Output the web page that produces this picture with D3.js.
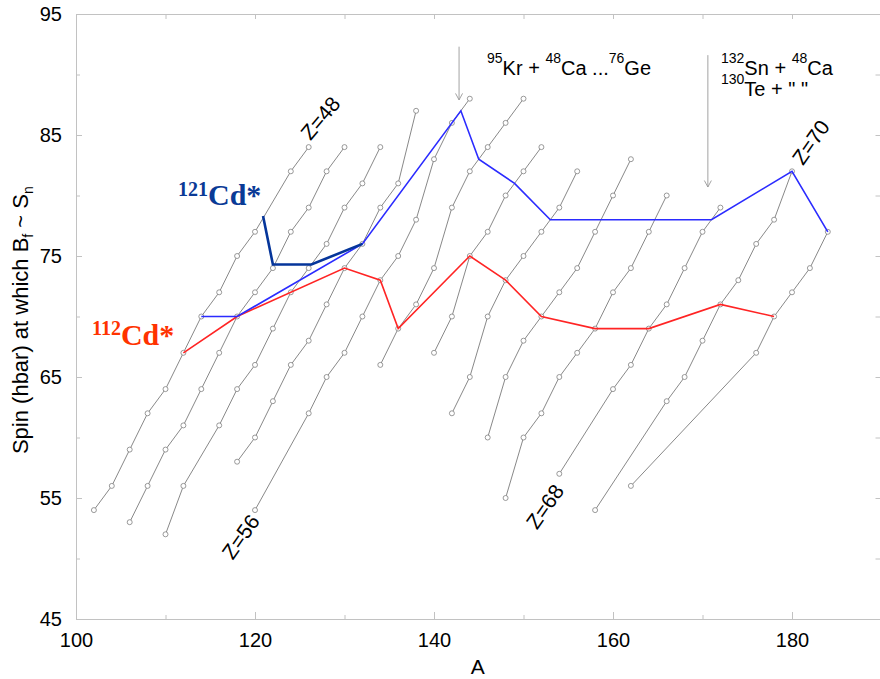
<!DOCTYPE html>
<html>
<head>
<meta charset="utf-8">
<script src="https://cdn.jsdelivr.net/npm/d3@7"></script>
<style>
  body { margin: 0; background: #fff; }
  svg { display: block; font-family: "Liberation Sans", Arial, Helvetica, sans-serif; }
</style>
</head>
<body>
<svg width="880" height="679"></svg>
<script>
// isotope chains (A, spin)
var chainZ48 = [[102,54],[104,56],[106,59],[108,62],[110,64],[112,67],[114,70],[116,72],[118,75],[120,77],[124,82],[126,84]];
var chainZ50 = [[106,53],[108,56],[110,59],[112,61],[114,64],[116,67],[118,70],[120,72],[122,74],[124,77],[126,79],[128,82],[130,84]];
var chainZ52 = [[110,52],[112,56],[116,61],[118,64],[120,66],[122,69],[124,72],[126,74],[128,76],[130,79],[132,81],[134,84]];
var chainZ54 = [[118,58],[120,60],[122,63],[124,66],[126,68],[128,71],[130,74],[132,76],[134,79],[136,81],[138,87]];
var chainZ56 = [[120,54],[126,62],[128,65],[130,67],[132,70],[134,73],[136,75],[138,78],[140,83],[142,86],[144,88]];
var chainZ58 = [[134,66],[136,69],[138,71],[140,74],[142,79],[144,82],[146,84],[148,86],[150,88]];
var chainZ60 = [[140,67],[142,70],[144,75],[146,77],[148,80],[150,82],[152,84]];
var chainZ62 = [[142,62],[144,65],[146,70],[148,73],[150,75],[152,77],[154,79],[156,82]];
var chainZ64 = [[146,60],[148,65],[150,68],[152,70],[154,72],[156,74],[158,77],[160,80],[162,83]];
var chainZ66 = [[148,55],[150,60],[152,62],[154,65],[156,67],[158,69],[160,72],[162,74],[164,77],[166,80]];
var chainZ68 = [[154,57],[160,64],[162,66],[164,69],[166,71],[168,74],[170,77],[172,79]];
var chainZ70 = [[158,54],[166,63],[168,65],[170,68],[172,71],[174,73],[176,76],[178,78],[180,82]];
var chainZ72 = [[162,56],[176,67],[178,70],[180,72],[182,74],[184,77]];

var redLine = [[112,67],[118,70],[130,74],[134,73],[136,69],[144,75],[148,73],[152,70],[158,69],[164,69],[172,71],[178,70]];
var blueLine = [[114,70],[118,70],[132,76],[143,87],[145,83],[149,81],[153,78],[171,78],[180,82],[184,77]];
var darkBlueLine = [[120.9,78.3],[122,74.3],[126.3,74.3],[132,76]];

var xMajor = [100,120,140,160,180];
var xMinor = [110,130,150,170,190];
var yMajor = [45,55,65,75,85,95];
var yMinor = [50,60,70,80,90];

var svg = d3.select("svg");

var x = d3.scaleLinear().domain([100,190]).range([76,881.5]);
var y = d3.scaleLinear().domain([45,95]).range([619,14]);

var frameColor = "#c2c2c2";

//frame + ticks
function styleAxis(g)
{
    g.selectAll("path").attr("stroke", frameColor);
    g.selectAll("line").attr("stroke", frameColor);
    g.selectAll("text").attr("fill", "#000").style("font-size", "20px");
}

svg.append("g").attr("transform", "translate(0," + y(45) + ")")
    .call(d3.axisBottom(x).tickValues(xMajor).tickSize(-7).tickSizeOuter(0).tickPadding(14))
    .call(styleAxis);
svg.append("g").attr("transform", "translate(0," + y(45) + ")")
    .call(d3.axisBottom(x).tickValues(xMinor).tickSize(-4).tickSizeOuter(0).tickFormat(""))
    .call(styleAxis);
svg.append("g").attr("transform", "translate(0," + y(95) + ")")
    .call(d3.axisTop(x).tickValues(xMajor.concat(xMinor)).tickSize(-5).tickSizeOuter(0).tickFormat(""))
    .call(styleAxis);

svg.append("g").attr("transform", "translate(" + x(100) + ",0)")
    .call(d3.axisLeft(y).tickValues(yMajor).tickSize(-6).tickSizeOuter(0).tickPadding(14))
    .call(styleAxis);
svg.append("g").attr("transform", "translate(" + x(100) + ",0)")
    .call(d3.axisLeft(y).tickValues(yMinor).tickSize(-4).tickSizeOuter(0).tickFormat(""))
    .call(styleAxis);
svg.append("g").attr("transform", "translate(" + x(190) + ",0)")
    .call(d3.axisRight(y).tickValues(yMajor.concat(yMinor)).tickSize(-6).tickSizeOuter(0).tickFormat(""))
    .call(styleAxis);

//axis titles
svg.append("text")
    .attr("x", x(144.9))
    .attr("y", 674)
    .attr("text-anchor", "middle")
    .style("font-size", "21px")
    .text("A");

var yTitle = svg.append("text")
    .attr("transform", "translate(28," + y(69.7) + ") rotate(-90)")
    .attr("text-anchor", "middle")
    .style("font-size", "22px");
yTitle.append("tspan").text("Spin (hbar) at which B");
yTitle.append("tspan").attr("dy", 5).style("font-size", "14px").text("f");
yTitle.append("tspan").attr("dy", -5).text(" ~ S");
yTitle.append("tspan").attr("dy", 5).style("font-size", "14px").text("n");

//grey chains
var chains = [chainZ48, chainZ50, chainZ52, chainZ54, chainZ56, chainZ58, chainZ60,
              chainZ62, chainZ64, chainZ66, chainZ68, chainZ70, chainZ72];

var line = d3.line().x(function(d){ return x(d[0]); }).y(function(d){ return y(d[1]); });

svg.append("g").selectAll("path")
    .data(chains)
    .enter()
    .append("path")
    .attr("d", line)
    .attr("fill", "none")
    .attr("stroke", "#6a6a6a")
    .attr("stroke-width", 0.8);

svg.append("g").selectAll("circle")
    .data(d3.merge(chains))
    .enter()
    .append("circle")
    .attr("cx", function(d){ return x(d[0]); })
    .attr("cy", function(d){ return y(d[1]); })
    .attr("r", 2.5)
    .attr("fill", "#fff")
    .attr("stroke", "#808080")
    .attr("stroke-width", 0.8);

//coloured paths
svg.append("path").datum(redLine).attr("d", line)
    .attr("fill", "none").attr("stroke", "#ff2424").attr("stroke-width", 1.6);
svg.append("path").datum(blueLine).attr("d", line)
    .attr("fill", "none").attr("stroke", "#2b2bff").attr("stroke-width", 1.6);
svg.append("path").datum(darkBlueLine).attr("d", line)
    .attr("fill", "none").attr("stroke", "#05359a").attr("stroke-width", 2.6);

//Z labels
var zLabels = [
    {t: "Z=48", a: 127.3, s: 86.4, r: -50},
    {t: "Z=56", a: 118.4, s: 51.8, r: -55},
    {t: "Z=68", a: 152.4, s: 54.3, r: -55},
    {t: "Z=70", a: 182.1, s: 84.4, r: -55}
];
svg.append("g").selectAll("text")
    .data(zLabels)
    .enter()
    .append("text")
    .attr("transform", function(d){ return "translate(" + x(d.a) + "," + y(d.s) + ") rotate(" + d.r + ")"; })
    .attr("text-anchor", "middle")
    .attr("dy", "0.35em")
    .style("font-size", "21px")
    .text(function(d){ return d.t; });

//nucleus labels
var cd121 = svg.append("text")
    .attr("x", 178).attr("y", 205)
    .attr("fill", "#0a3a96")
    .style("font-family", "'Liberation Serif', 'Times New Roman', serif")
    .style("font-weight", "bold")
    .style("font-size", "30px");
cd121.append("tspan").attr("dy", -9).style("font-size", "20px").text("121");
cd121.append("tspan").attr("dy", 9).text("Cd*");

var cd112 = svg.append("text")
    .attr("x", 92).attr("y", 345)
    .attr("fill", "#ff3300")
    .style("font-family", "'Liberation Serif', 'Times New Roman', serif")
    .style("font-weight", "bold")
    .style("font-size", "30px");
cd112.append("tspan").attr("dy", -10).style("font-size", "20px").text("112");
cd112.append("tspan").attr("dy", 10).text("Cd*");

//arrows
var arrows = [[142.8, 92.3, 87.9], [170.6, 91.6, 80.7]];
arrows.forEach(function(a)
{
    var ax = x(a[0]), y0 = y(a[1]), y1 = y(a[2]);
    svg.append("line").attr("x1", ax).attr("x2", ax).attr("y1", y0).attr("y2", y1)
        .attr("stroke", "#999").attr("stroke-width", 0.9);
    svg.append("path")
        .attr("d", "M" + (ax - 3.5) + "," + (y1 - 6.5) + "L" + ax + "," + y1 + "L" + (ax + 3.5) + "," + (y1 - 6.5))
        .attr("fill", "none").attr("stroke", "#999").attr("stroke-width", 0.9);
});

//reaction texts
function reaction(xPos, yPos, parts)
{
    var t = svg.append("text").attr("x", xPos).attr("y", yPos).style("font-size", "20px");
    parts.forEach(function(p)
    {
        if(p[1]) t.append("tspan").attr("dy", -12).style("font-size", "14px").text(p[0]);
        else t.append("tspan").attr("dy", p[2] ? 12 : 0).text(p[0]);
    });
}
reaction(487, 75, [["95",1],["Kr + ",0,1],["48",1],["Ca ...",0,1],["76",1],["Ge",0,1]]);
reaction(721, 75, [["132",1],["Sn + ",0,1],["48",1],["Ca",0,1]]);
reaction(721, 96, [["130",1],["Te + \" \"",0,1]]);
</script>
</body>
</html>
